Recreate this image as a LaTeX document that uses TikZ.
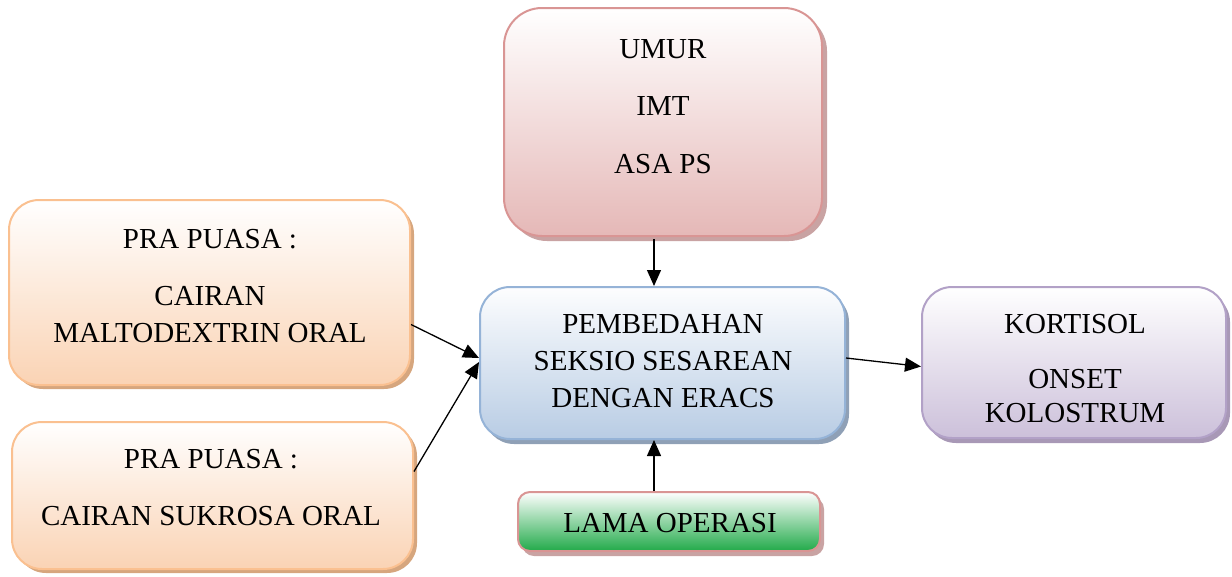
\documentclass[tikz,border=0pt]{standalone}
\usepackage{fontspec}
\setmainfont{Liberation Serif}
\usetikzlibrary{arrows.meta,shadows}
\definecolor{redB}{HTML}{D99594}
\definecolor{redF}{HTML}{E5B8B7}
\definecolor{redS}{HTML}{C9A3A3}
\definecolor{orB}{HTML}{FAC090}
\definecolor{orF}{HTML}{FAD3B4}
\definecolor{orS}{HTML}{D6A67E}
\definecolor{blB}{HTML}{95B3D7}
\definecolor{blF}{HTML}{B8CCE4}
\definecolor{blS}{HTML}{8FA0B6}
\definecolor{puB}{HTML}{B2A1C7}
\definecolor{puF}{HTML}{CCC0DA}
\definecolor{puS}{HTML}{A898B6}
\definecolor{grM}{HTML}{9ED8AE}
\definecolor{grF}{HTML}{22AA4A}
\tikzset{
  box/.style={rectangle, inner sep=0pt, line width=2pt},
  redbox/.style={box, draw=redB, top color=white, bottom color=redF, rounded corners=38pt,
    drop shadow={shadow xshift=5pt, shadow yshift=-5pt, fill=redS, opacity=1}},
  orbox/.style={box, draw=orB, top color=white, bottom color=orF, rounded corners=30pt,
    drop shadow={shadow xshift=4pt, shadow yshift=-4pt, fill=orS, opacity=1}},
  blbox/.style={box, draw=blB, top color=white!97!blF, bottom color=blF, rounded corners=30pt,
    drop shadow={shadow xshift=4pt, shadow yshift=-5pt, fill=blS, opacity=1}},
  pubox/.style={box, draw=puB, top color=white, bottom color=puF, rounded corners=30pt,
    drop shadow={shadow xshift=4pt, shadow yshift=-5pt, fill=puS, opacity=1}},
  grbox/.style={box, draw=redB, top color=white, middle color=grM, bottom color=grF, rounded corners=12pt,
    drop shadow={shadow xshift=4pt, shadow yshift=-5pt, fill=redS, opacity=1}},
  txt/.style={anchor=base, inner sep=0pt, font=\fontsize{29}{37}\selectfont},
  arr/.style={line width=1.3pt, -{Triangle[length=16pt,width=14pt]}}
}
\begin{document}
\begin{tikzpicture}[x=1pt,y=-1pt]
\useasboundingbox (0,0) rectangle (1232,576);
% boxes
\node[redbox, minimum width=318pt, minimum height=228pt] (top) at (663,122) {};
\node[orbox, minimum width=401pt, minimum height=185pt] (l1) at (209.5,292.5) {};
\node[orbox, minimum width=401pt, minimum height=147pt] (l2) at (212.5,495.5) {};
\node[blbox, minimum width=365pt, minimum height=152pt] (ctr) at (662.5,363) {};
\node[pubox, minimum width=304pt, minimum height=151pt] (rgt) at (1074,362.5) {};
\node[grbox, minimum width=302pt, minimum height=59pt] (bot) at (669,521.5) {};
% texts
\node[txt] (t1) at (663,58) {UMUR};
\node[txt] (t2) at (663,115) {IMT};
\node[txt] (t3) at (663,173) {ASA PS};
\node[txt] (a1) at (210,248) {PRA PUASA :};
\node[txt] (a2) at (210,305) {CAIRAN};
\node[txt] (a3) at (210,342) {MALTODEXTRIN ORAL};
\node[txt] (b1) at (211,468) {PRA PUASA :};
\node[txt] (b2) at (211,525) {CAIRAN SUKROSA ORAL};
\node[txt] (c1) at (663,333) {PEMBEDAHAN};
\node[txt] (c2) at (663,370) {SEKSIO SESAREAN};
\node[txt] (c3) at (663,407) {DENGAN ERACS};
\node[txt] (r1) at (1075,333) {KORTISOL};
\node[txt] (r2) at (1075,388) {ONSET};
\node[txt] (r3) at (1075,422) {KOLOSTRUM};
\node[txt] (g1) at (670,532) {LAMA OPERASI};
% connectors
\draw[arr] ([xshift=-9pt,yshift=-2pt]top.south) -- ([xshift=-8.5pt]ctr.north);
\draw[arr] ([xshift=-15pt]bot.north) -- ([xshift=-8.5pt]ctr.south);
\draw[arr] ([yshift=-32pt]l1.east) -- ([yshift=5pt]ctr.west);
\draw[arr] ([yshift=24pt]l2.east) -- ([yshift=1pt]ctr.west);
\draw[arr] ([yshift=5pt]ctr.east) -- ([yshift=-4pt]rgt.west);
\end{tikzpicture}
\end{document}
